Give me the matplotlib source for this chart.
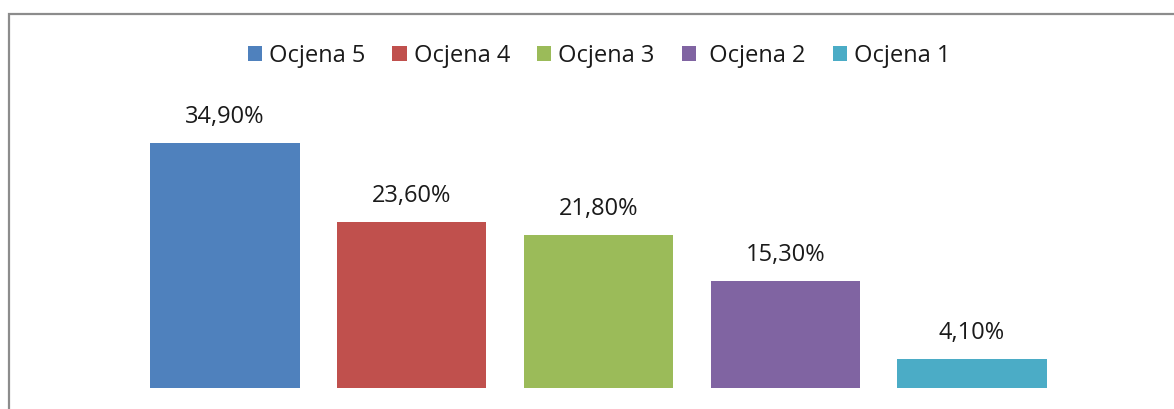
import matplotlib.pyplot as plt
from matplotlib.patches import Rectangle, Patch

categories = ['Ocjena 5', 'Ocjena 4', 'Ocjena 3', ' Ocjena 2', 'Ocjena 1']
values = [34.9, 23.6, 21.8, 15.3, 4.1]
colors = ['#4F81BD', '#C0504D', '#9BBB59', '#8064A2', '#4BACC6']

plt.rcParams['font.family'] = ['Open Sans', 'DejaVu Sans']

W, H = 1174, 409
fig = plt.figure(figsize=(W / 100, H / 100), dpi=100)

# frame of the chart area (cut off at right and bottom like the reference)
fig.patches.append(Rectangle((8.5 / W, -0.1), 1.2, (H - 13.5) / H + 0.1,
                             transform=fig.transFigure, fill=False,
                             edgecolor='#8c8c8c', linewidth=1.6))

# axes spans the whole figure; limits place bars where the reference has them
ax = fig.add_axes([0, 21 / H, 1, (H - 21) / H])
x = list(range(len(values)))
bars = ax.bar(x, values, width=0.80, color=colors)
ax.set_xlim((0 - 225) / 186.75, (W - 225) / 186.75)
ax.set_ylim(0, (H - 21) / 7.02)
ax.axis('off')

ax.bar_label(bars, labels=[f'{v:.2f}%'.replace('.', ',') for v in values],
             padding=10, fontsize=17, color='#1a1a1a')

handles = [Patch(facecolor=c) for c in colors]
fig.legend(handles, categories, loc='center', bbox_to_anchor=(599 / W, 1 - 56 / H),
           ncol=5, frameon=False, fontsize=17, handlelength=0.6, handleheight=0.6,
           handletextpad=0.3, columnspacing=1.15, labelcolor='#1a1a1a')

fig.savefig('out.png', dpi=100)
